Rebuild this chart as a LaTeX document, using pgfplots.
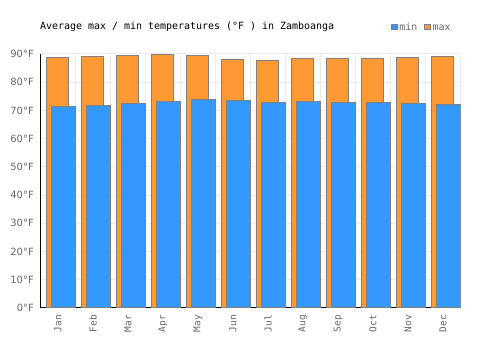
\documentclass[border=0pt]{standalone}
\usepackage{pgfplots}
\pgfplotsset{compat=1.18}
\usepackage{fontspec}
\setmainfont{DejaVu Sans}
\setmonofont{DejaVu Sans Mono}
\definecolor{barorange}{HTML}{FF9933}
\definecolor{barblue}{HTML}{3399FF}
\definecolor{edgegray}{HTML}{808080}
\definecolor{gridgray}{HTML}{EBEBEB}
\definecolor{labgray}{HTML}{666666}
\begin{document}
\begin{tikzpicture}
\path[use as bounding box] (0,0) rectangle (500bp,350bp);
\node[anchor=west, font=\ttfamily\fontsize{10}{12}\selectfont, inner sep=0] at (40bp,323.3bp) {Average max / min temperatures (°F ) in Zamboanga};
\begin{axis}[
  at={(40.5bp,42bp)}, anchor=south west, scale only axis,
  width=420bp, height=254bp,
  xmin=0, xmax=12, ymin=0, ymax=90,
  axis x line*=bottom, axis y line*=left,
  axis line style={line width=1bp, black, -},
  xtick={0.5,1.5,...,11.5},
  xticklabels={Jan,Feb,Mar,Apr,May,Jun,Jul,Aug,Sep,Oct,Nov,Dec},
  minor xtick={1,2,...,12},
  ytick={0,10,...,90},
  ymajorgrids, xminorgrids,
  grid style={gridgray, line width=1bp},
  minor grid style={gridgray, line width=1bp},
  major tick length=0pt, minor tick length=0pt,
  /pgf/number format/assume math mode=true,
  yticklabel={\pgfmathprintnumber{\tick}°F},
  yticklabel style={inner sep=0pt, font=\fontsize{10}{12}\selectfont, text=labgray},
  yticklabel shift=6.5bp,
  xticklabel style={inner sep=0pt, rotate=90, anchor=east, font=\ttfamily\fontsize{9.5}{11}\selectfont, text=labgray},
  xticklabel shift=7bp,
  legend image code/.code={\draw[#1, line width=0.6bp] (0bp,-2.8bp) rectangle (5.6bp,2.8bp);},
  legend style={at={(axis description cs:0.8345,1.1075)}, anchor=west, draw=none, fill=none, inner sep=0pt,
    font=\ttfamily\fontsize{10}{12}\selectfont, text=labgray,
    nodes={text height=1.6ex, text depth=0.3ex},
    /tikz/every even column/.append style={column sep=5bp}},
  legend columns=-1,
]
\addlegendimage{fill=barblue, draw=edgegray}
\addlegendentry{min}
\addlegendimage{fill=barorange, draw=edgegray}
\addlegendentry{max}
\addplot[ybar, bar width=0.655, bar shift=0pt, fill=barorange, draw=edgegray, line width=1bp, forget plot] coordinates {
(0.486,88.8) (1.486,89.2) (2.486,89.5) (3.486,89.8) (4.486,89.5) (5.486,88.1)
(6.486,87.8) (7.486,88.5) (8.486,88.5) (9.486,88.5) (10.486,88.8) (11.486,89.2)};
\addplot[ybar, bar width=0.7, bar shift=0pt, fill=barblue, draw=edgegray, line width=1bp, forget plot] coordinates {
(0.65,71.5) (1.65,71.8) (2.65,72.5) (3.65,73.2) (4.65,74.0) (5.65,73.6)
(6.65,72.9) (7.65,73.2) (8.65,72.9) (9.65,72.9) (10.65,72.5) (11.65,72.2)};
\end{axis}
\end{tikzpicture}
\end{document}
